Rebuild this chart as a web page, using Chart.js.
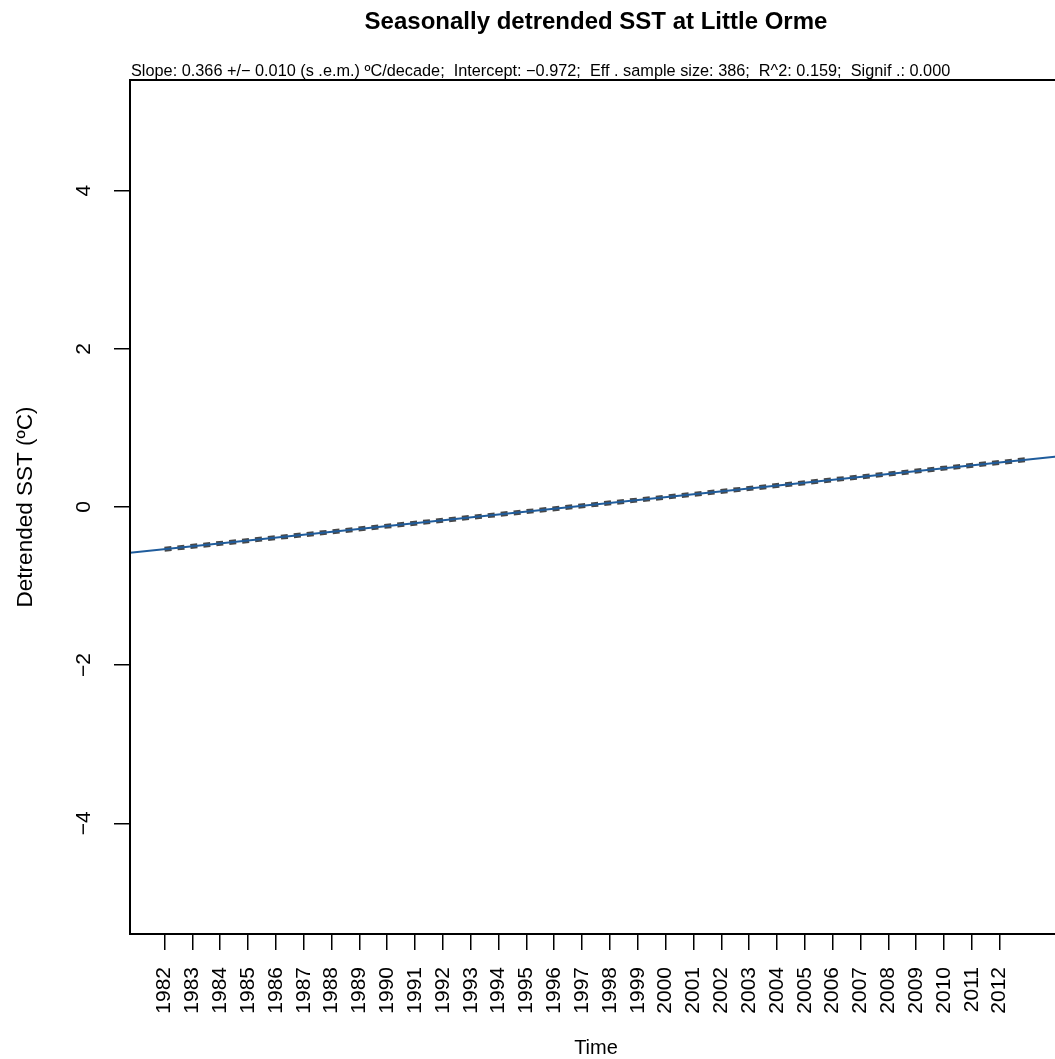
<!DOCTYPE html>
<html>
<head>
<meta charset="utf-8">
<script src="https://cdn.jsdelivr.net/npm/chart.js@4.4.1/dist/chart.umd.min.js"></script>
<style>
html,body{margin:0;padding:0;overflow:hidden;background:#fff;}
canvas{display:block;}
</style>
</head>
<body>
<canvas id="c" width="1070" height="1059"></canvas>
<script>
// ---- data ----
const xTickYears = [1982,1983,1984,1985,1986,1987,1988,1989,1990,1991,1992,1993,1994,1995,1996,1997,1998,1999,2000,2001,2002,2003,2004,2005,2006,2007,2008,2009,2010,2011,2012];
const yTickValues = [-4,-2,0,2,4];
const xRange = [1980.76, 2014.24];
const yRange = [-5.4, 5.4];
// fitted values over the data period (dashed grey)
const fitYears = [1982.0, 2013.0];
const fitValues = [-0.534, 0.600];
// regression line across the plot (blue)
const trendYears = [1980.76, 2014.24];
const trendValues = [-0.580, 0.646];

const titleText = 'Seasonally detrended SST at Little Orme';
const subtitleText = 'Slope: 0.366 +/\u2212 0.010 (s .e.m.) \u00BAC/decade;  Intercept: \u22120.972;  Eff . sample size: 386;  R^2: 0.159;  Signif .: 0.000';
const xTitle = 'Time';
const yTitle = 'Detrended SST (\u00BAC)';

const FONT = "'Liberation Sans', Arial, Helvetica, sans-serif";

const toXY = (xs, ys) => xs.map((x, i) => ({x: x, y: ys[i]}));

const decor = {
  id: 'decor',
  afterDraw(chart) {
    const ctx = chart.ctx;
    const a = chart.chartArea;
    const ys = chart.scales.y;
    ctx.save();
    // frame
    ctx.strokeStyle = '#000';
    ctx.lineWidth = 2;
    ctx.strokeRect(a.left, a.top, a.right - a.left, a.bottom - a.top);
    ctx.fillStyle = '#000';
    // title
    ctx.font = 'bold 24px ' + FONT;
    ctx.textAlign = 'center';
    ctx.textBaseline = 'alphabetic';
    const cx = (a.left + a.right) / 2;
    ctx.fillText(titleText, cx, 29);
    // subtitle
    ctx.font = '16.3px ' + FONT;
    ctx.textAlign = 'left';
    ctx.fillText(subtitleText, 131, 76);
    // x title
    ctx.font = '20px ' + FONT;
    ctx.textAlign = 'center';
    ctx.fillText(xTitle, cx, 1054);
    // y tick labels, rotated
    ctx.font = '21px ' + FONT;
    yTickValues.forEach(v => {
      const py = ys.getPixelForValue(v);
      ctx.save();
      ctx.translate(90, py);
      ctx.rotate(-Math.PI / 2);
      ctx.textAlign = 'center';
      ctx.textBaseline = 'alphabetic';
      ctx.fillText(v < 0 ? '\u2212' + Math.abs(v) : String(v), 0, 0);
      ctx.restore();
    });
    // y title
    ctx.font = '22.5px ' + FONT;
    ctx.save();
    ctx.translate(32, (a.top + a.bottom) / 2);
    ctx.rotate(-Math.PI / 2);
    ctx.textAlign = 'center';
    ctx.textBaseline = 'alphabetic';
    ctx.fillText(yTitle, 0, 0);
    ctx.restore();
    ctx.restore();
  }
};

new Chart(document.getElementById('c'), {
  type: 'scatter',
  data: {
    datasets: [
      {
        data: toXY(fitYears, fitValues),
        showLine: true,
        borderColor: '#484848',
        borderWidth: 5,
        borderDash: [7, 6],
        pointRadius: 0,
        order: 2
      },
      {
        data: toXY(trendYears, trendValues),
        showLine: true,
        borderColor: '#1f5c9c',
        borderWidth: 2,
        pointRadius: 0,
        order: 1
      }
    ]
  },
  options: {
    responsive: false,
    devicePixelRatio: 1,
    animation: false,
    events: [],
    layout: {padding: {top: 80, right: 8, bottom: 0, left: 0}},
    plugins: {legend: {display: false}, tooltip: {enabled: false}, title: {display: false}},
    scales: {
      x: {
        type: 'linear',
        min: xRange[0],
        max: xRange[1],
        afterBuildTicks: s => { s.ticks = xTickYears.map(v => ({value: v})); },
        afterFit: s => { s.height = 125; },
        ticks: {
          autoSkip: false,
          minRotation: 90,
          maxRotation: 90,
          padding: 17,
          color: '#000',
          font: {family: FONT, size: 21},
          callback: v => String(v)
        },
        grid: {display: true, drawOnChartArea: false, drawTicks: true, tickLength: 16, color: '#000', lineWidth: 1.5},
        border: {display: false}
      },
      y: {
        type: 'linear',
        min: yRange[0],
        max: yRange[1],
        afterBuildTicks: s => { s.ticks = yTickValues.map(v => ({value: v})); },
        afterFit: s => { s.width = 130; },
        ticks: {display: false},
        grid: {display: true, drawOnChartArea: false, drawTicks: true, tickLength: 16, color: '#000', lineWidth: 1.5},
        border: {display: false}
      }
    }
  },
  plugins: [decor]
});
</script>
</body>
</html>
